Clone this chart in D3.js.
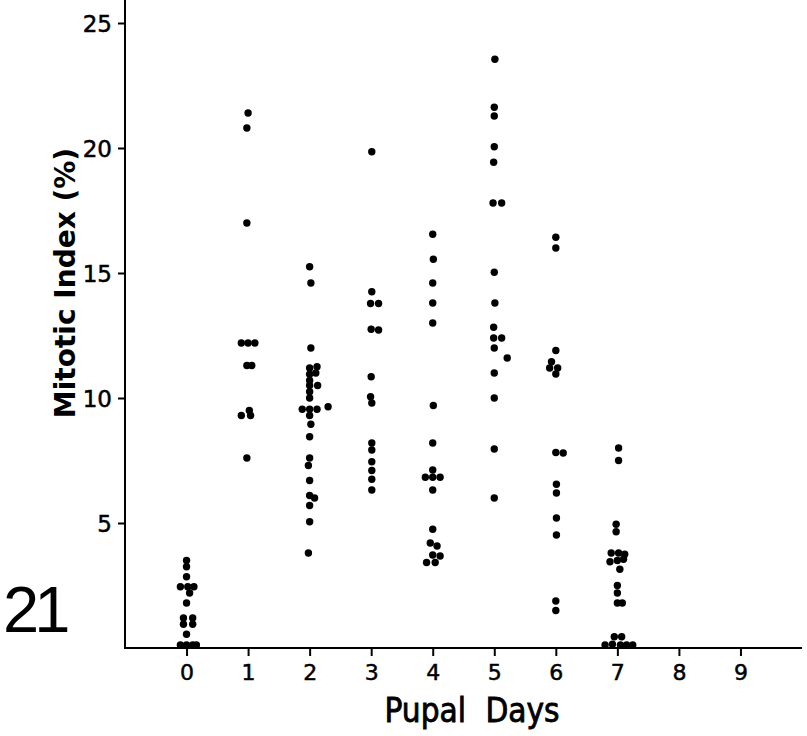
<!DOCTYPE html>
<html>
<head>
<meta charset="utf-8">
<script src="https://cdn.jsdelivr.net/npm/d3@7"></script>
<style>
  body { margin: 0; background: #fff; }
  svg { display: block; }
  text { font-family: "DejaVu Sans", sans-serif; fill: #000; }
</style>
</head>
<body>
<svg id="chart"></svg>
<script>
var width = 807;
var height = 736;

// x tick labels (pupal days) and y ticks
var dayTicks = [0, 1, 2, 3, 4, 5, 6, 7, 8, 9];
var indexTicks = [5, 10, 15, 20, 25];

// each point: [day position (with small spread), mitotic index %]
var day0 = [[0, 3.5], [0, 3.25], [0, 2.85], [-0.1, 2.45], [0.02, 2.45], [0.12, 2.45], [0.05, 2.2],
  [0, 1.8], [-0.05, 1.2], [0.1, 1.2], [-0.05, 0.95], [0.1, 0.95], [0, 0.55],
  [-0.1, 0.12], [0, 0.12], [0.1, 0.12], [0.16, 0.12]];
var day1 = [[1, 21.4], [0.98, 20.8], [0.98, 17.0], [0.89, 12.2], [1.0, 12.2], [1.11, 12.2],
  [0.98, 11.3], [1.06, 11.3], [1.02, 9.5], [0.89, 9.3], [1.04, 9.3], [0.98, 7.6]];
var day2 = [[2, 15.25], [2.02, 14.6], [2.02, 12.0], [2.0, 11.2], [2.12, 11.25], [2.0, 10.95],
  [2.1, 11.0], [2.0, 10.7], [2.0, 10.5], [2.13, 10.5], [2.0, 10.25], [2.0, 10.0],
  [1.88, 9.55], [2.0, 9.55], [2.12, 9.55], [2.3, 9.65], [2.0, 9.3], [2.02, 8.95],
  [2.0, 8.45], [2.0, 7.6], [1.98, 7.3], [2.0, 6.7], [2.0, 6.1], [2.08, 6.0],
  [2.0, 5.7], [2.0, 5.05], [1.98, 3.8]];
var day3 = [[3.01, 19.85], [3.01, 14.25], [2.99, 13.78], [3.12, 13.78], [3.0, 12.75], [3.12, 12.72],
  [3.0, 10.85], [2.99, 10.05], [3.01, 9.8], [3.01, 8.2], [3.01, 7.92], [3.01, 7.45],
  [3.01, 7.1], [3.01, 6.75], [3.01, 6.32]];
var day4 = [[4.0, 16.55], [4.01, 15.55], [4.0, 14.6], [4.0, 13.8], [4.0, 13.0], [4.01, 9.7],
  [4.0, 8.2], [4.0, 7.12], [3.88, 6.83], [4.0, 6.83], [4.12, 6.83], [4.0, 6.32],
  [4.0, 4.75], [3.96, 4.2], [4.07, 4.08], [4.0, 3.72], [4.12, 3.68], [3.9, 3.42], [4.04, 3.42]];
var day5 = [[5.01, 23.55], [5.0, 21.63], [5.0, 21.28], [5.0, 20.05], [4.99, 19.43], [4.98, 17.8],
  [5.12, 17.8], [5.0, 15.03], [5.01, 13.8], [4.99, 12.83], [4.99, 12.4], [5.12, 12.4],
  [5.0, 12.0], [5.21, 11.6], [5.0, 11.0], [5.0, 10.0], [5.0, 7.96], [5.0, 6.0]];
var day6 = [[6.0, 16.43], [6.0, 16.0], [6.0, 11.9], [5.93, 11.45], [5.9, 11.2], [6.03, 11.2],
  [6.0, 10.96], [6.0, 7.82], [6.12, 7.8], [6.01, 6.55], [6.01, 6.2], [6.01, 5.2],
  [6.01, 4.52], [6.0, 1.88], [6.0, 1.5]];
var day7 = [[7.02, 8.0], [7.02, 7.5], [6.98, 4.95], [6.98, 4.65], [6.9, 3.8], [7.02, 3.8],
  [7.12, 3.75], [6.88, 3.45], [7.0, 3.5], [7.1, 3.55], [7.04, 3.15], [7.0, 2.5],
  [7.0, 2.2], [7.0, 1.8], [7.08, 1.8], [6.95, 0.45], [7.07, 0.45], [6.8, 0.12],
  [6.92, 0.15], [7.05, 0.12], [7.15, 0.12], [7.25, 0.12]];

var points = [].concat(day0, day1, day2, day3, day4, day5, day6, day7);

var svg = d3.select("#chart")
  .attr("width", width)
  .attr("height", height);

var x = d3.scaleLinear()
  .domain([-1, 10])
  .range([125, 802]);

var y = d3.scaleLinear()
  .domain([0, 26])
  .range([648, -2]);

// y axis
var yAxis = d3.axisLeft(y)
  .tickValues(indexTicks)
  .tickSize(7)
  .tickPadding(6)
  .tickFormat(d3.format("d"));

var gy = svg.append("g")
  .attr("transform", "translate(" + x(-1) + ",0)")
  .call(yAxis);
gy.select(".domain").remove();
gy.append("line")
  .attr("x1", 0).attr("x2", 0)
  .attr("y1", y(0) + 1).attr("y2", 0)
  .attr("stroke", "#000")
  .attr("stroke-width", 2);
gy.selectAll(".tick line").attr("stroke", "#000").attr("stroke-width", 2);
gy.selectAll(".tick text")
  .style("font-size", "23px")
  .style("stroke", "#000")
  .style("stroke-width", "0.5px")
  .attr("dy", "0.36em");

// x axis
var xAxis = d3.axisBottom(x)
  .tickValues(dayTicks)
  .tickSize(8)
  .tickPadding(8)
  .tickFormat(d3.format("d"));

var gx = svg.append("g")
  .attr("transform", "translate(0," + y(0) + ")")
  .call(xAxis);
gx.select(".domain").remove();
gx.append("line")
  .attr("x1", x(-1) - 1).attr("x2", x(10))
  .attr("y1", 0).attr("y2", 0)
  .attr("stroke", "#000")
  .attr("stroke-width", 2);
gx.selectAll(".tick line").attr("stroke", "#000").attr("stroke-width", 2);
gx.selectAll(".tick text")
  .style("font-size", "22px")
  .style("stroke", "#000")
  .style("stroke-width", "0.5px");

// points
svg.append("g")
  .selectAll("circle")
  .data(points)
  .enter().append("circle")
  .attr("cx", function(d) { return x(d[0]); })
  .attr("cy", function(d) { return y(d[1]); })
  .attr("r", 3.7)
  .attr("fill", "#000");

// axis titles
svg.append("text")
  .attr("x", 472)
  .attr("y", 722)
  .attr("text-anchor", "middle")
  .style("font-family", "'DejaVu Sans Condensed', 'DejaVu Sans', sans-serif")
  .style("font-size", "33px")
  .style("word-spacing", "10px")
  .style("stroke", "#000")
  .style("stroke-width", "0.8px")
  .text("Pupal Days");

svg.append("text")
  .attr("transform", "translate(75,283) rotate(-90)")
  .attr("text-anchor", "middle")
  .style("font-size", "28px")
  .style("font-weight", "bold")
  .text("Mitotic Index (%)");

// figure number
svg.append("text")
  .attr("x", 3)
  .attr("y", 632)
  .style("font-family", "'Liberation Sans', Arial, sans-serif")
  .style("font-size", "65px")
  .style("letter-spacing", "-5px")
  .text("21");
</script>
</body>
</html>
